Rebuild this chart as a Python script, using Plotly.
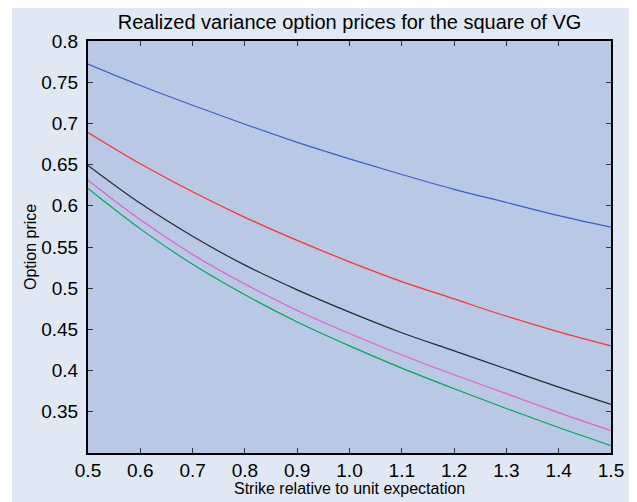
import plotly.graph_objects as go

strike = [0.5, 0.6, 0.7, 0.8, 0.9, 1.0, 1.1, 1.2, 1.3, 1.4, 1.5]
blue = [0.772, 0.746, 0.722, 0.699, 0.677, 0.657, 0.638, 0.620, 0.604, 0.588, 0.574]
red = [0.689, 0.651, 0.617, 0.586, 0.558, 0.532, 0.508, 0.487, 0.466, 0.447, 0.430]
black = [0.649, 0.603, 0.563, 0.528, 0.498, 0.471, 0.446, 0.424, 0.402, 0.380, 0.359]
magenta = [0.631, 0.583, 0.541, 0.505, 0.473, 0.445, 0.419, 0.395, 0.372, 0.349, 0.327]
green = [0.621, 0.572, 0.529, 0.492, 0.459, 0.430, 0.403, 0.378, 0.354, 0.331, 0.309]

x_ticks = [0.5, 0.6, 0.7, 0.8, 0.9, 1.0, 1.1, 1.2, 1.3, 1.4, 1.5]
y_ticks = [0.35, 0.4, 0.45, 0.5, 0.55, 0.6, 0.65, 0.7, 0.75, 0.8]
y_tick_text = ["0.35", "0.4", "0.45", "0.5", "0.55", "0.6", "0.65", "0.7", "0.75", "0.8"]

series = [
    (blue, "#3f5fbf"),
    (red, "#ff3030"),
    (black, "#2a2a2a"),
    (magenta, "#e060c8"),
    (green, "#00a85a"),
]

fig = go.Figure()
for vals, col in series:
    fig.add_trace(go.Scatter(x=strike, y=vals, mode="lines", line=dict(color=col, width=1.2, shape="spline"),
                             showlegend=False, hoverinfo="skip"))

# figure is placed at (8, 8) in the page by the default body margin
W, H = 629, 494
L, R, T, B = 80, 26, 33, 49
pw, ph = W - L - R, H - T - B

# thin white strip on the left edge of the panel
fig.add_shape(type="rect", xref="paper", yref="paper", layer="below",
              x0=-(L + 5) / pw, x1=(4 - L) / pw, y0=-(B + 5) / ph, y1=1 + (T + 5) / ph,
              fillcolor="white", line=dict(width=0))

tick_font = dict(family="Liberation Sans, Arial", size=19, color="black")
title_font = dict(family="Liberation Sans, Arial", size=16, color="black")

axis_common = dict(showgrid=False, zeroline=False, showline=True, linecolor="black", linewidth=2,
                   mirror="allticks", ticks="inside", ticklen=5, tickwidth=1, tickcolor="#333333",
                   tickfont=tick_font)

fig.update_xaxes(range=[0.5, 1.5], tickvals=x_ticks, tickformat=".1f", ticklabelstandoff=-1,
                 **axis_common)
fig.update_yaxes(range=[0.3, 0.8], tickvals=y_ticks, ticktext=y_tick_text, ticklabelstandoff=4,
                 **axis_common)

fig.add_annotation(text="Strike relative to unit expectation", xref="paper", yref="paper",
                   x=0.5, y=-35 / ph, xanchor="center", yanchor="middle",
                   showarrow=False, font=title_font)
fig.add_annotation(text="Option price", xref="paper", yref="paper", textangle=-90,
                   x=-58 / pw, y=0.5, xanchor="center", yanchor="middle",
                   showarrow=False, font=title_font)

fig.update_layout(
    width=W, height=H,
    margin=dict(l=L, r=R, t=T, b=B, pad=0),
    paper_bgcolor="#e0e8f4",
    plot_bgcolor="#b9c8e5",
    title=dict(text="Realized variance option prices for the square of VG", x=(L + pw / 2) / W, xanchor="center",
               y=1 - 14 / H, yanchor="middle",
               font=dict(family="Liberation Sans, Arial", size=20, color="black")),
)

fig.write_html("out.html")
